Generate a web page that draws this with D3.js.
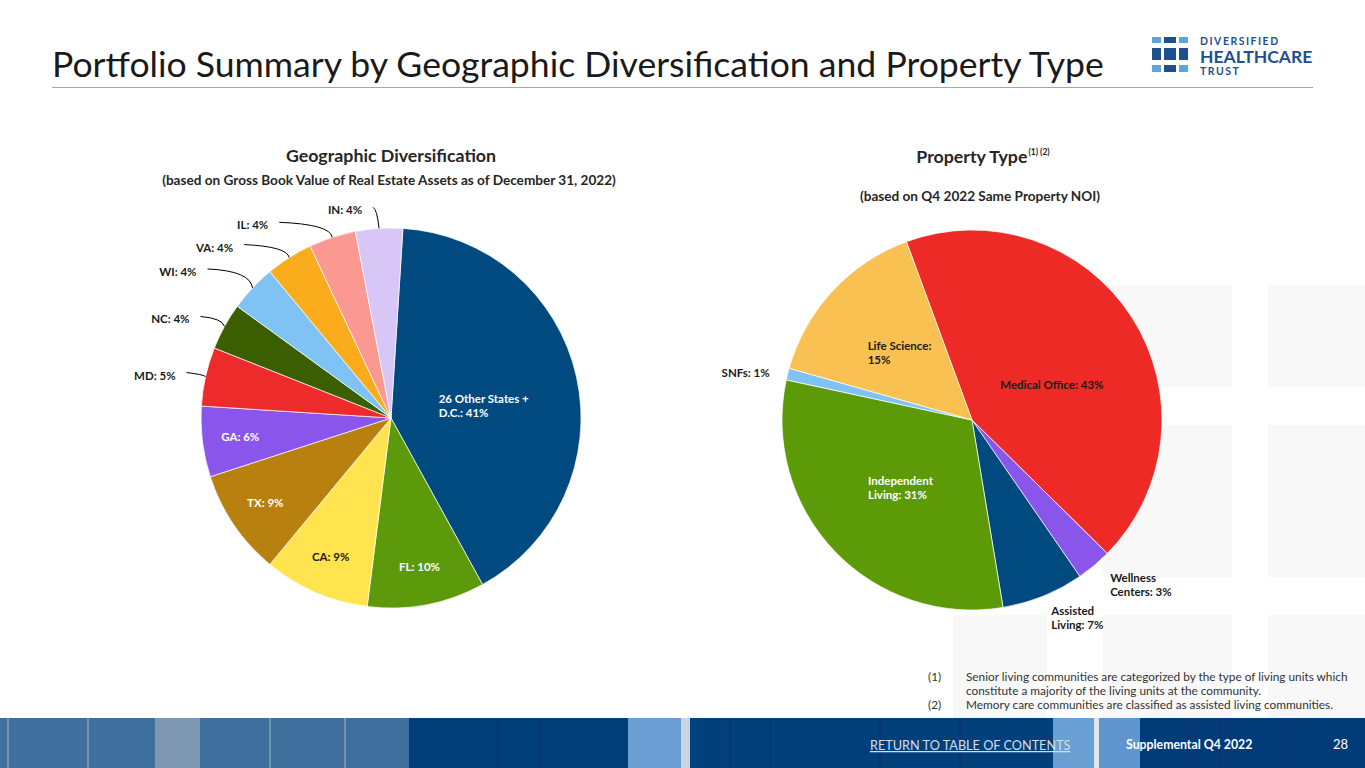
<!DOCTYPE html>
<html lang="en">
<head>
<meta charset="UTF-8">
<title>Portfolio Summary by Geographic Diversification and Property Type</title>
<script src="https://d3js.org/d3.v7.min.js"></script>
<style>
  body { margin: 0; background: #fff; }
  svg { display: block; font-family: Lato, "Open Sans", sans-serif; }
  .lbl { font-size: 11.5px; font-weight: 700; }
  .note { font-size: 11.8px; fill: #333; }
</style>
</head>
<body>
<svg id="chart" width="1365" height="768"></svg>
<script>
// ---- data ----
const geoLabels = ["26 Other States + D.C.", "FL", "CA", "TX", "GA", "MD", "NC", "WI", "VA", "IL", "IN"];
const geoValues = [41, 10, 9, 9, 6, 5, 4, 4, 4, 4, 4];

const typeLabels = ["Medical Office", "Wellness Centers", "Assisted Living", "Independent Living", "SNFs", "Life Science"];
const typeValues = [43, 3, 7, 31, 1, 15];

const footnotes = [
  ["(1)", "Senior living communities are categorized by the type of living units which"],
  ["", "constitute a majority of the living units at the community."],
  ["(2)", "Memory care communities are classified as assisted living communities."]
];

const svg = d3.select("#chart");
const deg = Math.PI / 180;

// faint background squares (brand pattern)
const bgSquares = [
  [1103, 285, 129, 102], [1268, 285, 97, 102],
  [1103, 425, 129, 152], [1268, 425, 97, 152],
  [953, 615, 94, 103], [1103, 615, 129, 103], [1268, 615, 97, 103]
];
svg.selectAll("rect.bg").data(bgSquares).enter().append("rect")
  .attr("class", "bg")
  .attr("x", d => d[0]).attr("y", d => d[1])
  .attr("width", d => d[2]).attr("height", d => d[3])
  .attr("fill", "#f8f8f8");

// title
svg.append("text")
  .attr("x", 52).attr("y", 77)
  .attr("font-size", 35.6).attr("fill", "#1a1a1a")
  .text("Portfolio Summary by Geographic Diversification and Property Type");

svg.append("line")
  .attr("x1", 52).attr("x2", 1313).attr("y1", 87.5).attr("y2", 87.5)
  .attr("stroke", "#a6a6a6").attr("stroke-width", 1);

// logo
const logo = svg.append("g");
const lcols = [[1152, 9], [1164, 12], [1179, 9]];
const lrows = [[37, 6, ["#5ba6de", "#1f4f8f", "#5ba6de"]],
               [48, 12, ["#1f4f8f", "#1f4f8f", "#1f4f8f"]],
               [65, 7, ["#5ba6de", "#1f4f8f", "#5ba6de"]]];
lrows.forEach(r => lcols.forEach((c, i) => {
  logo.append("rect").attr("x", c[0]).attr("y", r[0])
    .attr("width", c[1]).attr("height", r[1]).attr("fill", r[2][i]);
}));
logo.append("text").attr("x", 1200).attr("y", 44.5).attr("font-size", 10.5)
  .attr("font-weight", 700).attr("letter-spacing", 1.5).attr("fill", "#1f4f8f").text("DIVERSIFIED");
logo.append("text").attr("x", 1200).attr("y", 62.5).attr("font-size", 17.5)
  .attr("font-weight", 700).attr("letter-spacing", 0).attr("fill", "#1f4f8f").text("HEALTHCARE");
logo.append("text").attr("x", 1200).attr("y", 74.5).attr("font-size", 10.5)
  .attr("font-weight", 700).attr("letter-spacing", 1.5).attr("fill", "#1f4f8f").text("TRUST");

// section headings
function heading(x, y, txt, size) {
  return svg.append("text").attr("x", x).attr("y", y).attr("text-anchor", "middle")
    .attr("font-size", size).attr("font-weight", 700).attr("fill", "#262626").text(txt);
}
heading(391, 162, "Geographic Diversification", 17.8);
heading(389, 185, "(based on Gross Book Value of Real Estate Assets as of December 31, 2022)", 13.6);
const pt = heading(983, 163, "Property Type", 17.8);
pt.append("tspan").attr("font-size", 8.5).attr("dy", -8).attr("dx", 1).text("(1) (2)");
heading(980, 201, "(based on Q4 2022 Same Property NOI)", 13.6);

// ---- pies ----
const R = 190;

function labelText(name, v) { return `${name}: ${v}%`; }
function splitLines(str, firstWords) {
  if (!firstWords) return [str];
  const w = str.split(" ");
  return [w.slice(0, firstWords).join(" "), w.slice(firstWords).join(" ")];
}

function drawPie(cx, cy, labels, values, colors, startDeg, place) {
  const g = svg.append("g").attr("transform", `translate(${cx},${cy})`);
  const color = d3.scaleOrdinal().domain(labels).range(colors);
  const pie = d3.pie().sort(null).value(d => d.v)
    .startAngle(startDeg * deg).endAngle(startDeg * deg + 2 * Math.PI);
  const arcs = pie(labels.map((n, i) => ({ n, v: values[i] })));
  const arc = d3.arc().innerRadius(0).outerRadius(R);

  g.selectAll("path.slice").data(arcs).enter().append("path")
    .attr("class", "slice")
    .attr("d", arc)
    .attr("fill", d => color(d.data.n))
    .attr("stroke", "#fff").attr("stroke-width", 0.7);

  arcs.forEach(a => {
    const p = place[a.data.n];
    const mid = (a.startAngle + a.endAngle) / 2;
    const lines = splitLines(labelText(a.data.n, a.data.v), p.wrap);
    const lh = 14;
    let x, y, anchor = "start";
    if (p.in !== undefined) {
      const rr = R * p.in;
      x = Math.sin(mid) * rr + (p.dx || 0);
      y = -Math.cos(mid) * rr + (p.dy || 0);
    } else {
      const ex = Math.sin(mid) * R, ey = -Math.cos(mid) * R;
      x = ex + p.off[0]; y = ey + p.off[1];
      if (p.leader) {
        g.append("path")
          .attr("d", `M${x},${y} Q${ex - 2},${y + 2} ${ex},${ey}`)
          .attr("fill", "none").attr("stroke", "#000").attr("stroke-width", 1);
        x -= 11; y += 3;
      }
      anchor = p.anchor || "start";
    }
    const t = g.append("text").attr("class", "lbl").attr("fill", p.fill || "#1a1a1a");
    lines.forEach(l => t.append("tspan").text(l));
    const tsp = t.selectAll("tspan");
    const block = (lines.length - 1) * lh;
    // inside labels: left-aligned block centred on the anchor point
    if (p.in !== undefined) {
      const wmax = d3.max(tsp.nodes(), n => n.getComputedTextLength());
      tsp.attr("x", x - wmax / 2).attr("y", (d, i) => y - block / 2 + i * lh + 4);
    } else {
      t.attr("text-anchor", anchor);
      const top = p.top ? y : y - block / 2;
      tsp.attr("x", x).attr("y", (d, i) => top + i * lh + 4);
    }
  });
}

const geoColors = ["#004a80", "#5c9a0b", "#ffe44f", "#b8800f", "#8a55ea", "#ee2b2b",
                   "#3a5e00", "#7fc3f5", "#faac1d", "#fb9892", "#d8c7f6"];
const geoPlace = {
  "26 Other States + D.C.": { in: 0.5, dy: 9, wrap: 4, fill: "#fff" },
  "FL": { in: 0.8, fill: "#fff" },
  "CA": { in: 0.8 },
  "TX": { in: 0.8, fill: "#fff" },
  "GA": { in: 0.8, fill: "#fff" },
  "MD": { off: [-19, -4], leader: true, anchor: "end" },
  "NC": { off: [-24, -10], leader: true, anchor: "end" },
  "WI": { off: [-45, -19], leader: true, anchor: "end" },
  "VA": { off: [-45, -13], leader: true, anchor: "end" },
  "IL": { off: [-53, -15], leader: true, anchor: "end" },
  "IN": { off: [-6, -21], leader: true, anchor: "end" }
};
drawPie(391, 418, geoLabels, geoValues, geoColors, 3.6, geoPlace);

const typeColors = ["#ee2a26", "#8a55ea", "#004a80", "#5c9a07", "#7fc3f5", "#f9c052"];
const typePlace = {
  "Medical Office": { in: 0.5, dy: 16 },
  "Wellness Centers": { off: [16, 12], wrap: 1, top: true },
  "Assisted Living": { off: [8, 15], wrap: 1, top: true },
  "Independent Living": { in: 0.52, wrap: 1, fill: "#fff" },
  "SNFs": { off: [-18, -1], anchor: "end" },
  "Life Science": { in: 0.52, wrap: 2 }
};
drawPie(972, 420, typeLabels, typeValues, typeColors, -20.2, typePlace);

// ---- footnotes ----
const fn = svg.append("g");
footnotes.forEach((f, i) => {
  const y = 681 + i * 14;
  fn.append("text").attr("class", "note").attr("x", 928).attr("y", y).text(f[0]);
  fn.append("text").attr("class", "note").attr("x", 966).attr("y", y).text(f[1]);
});

// ---- footer band (building photo, approximated) ----
const band = [
  [0, 409, "#3f6f9c"], [155, 200, "#7f98b2"], [409, 628, "#003f7a"],
  [628, 681, "#6b9fd3"], [681, 690, "#c8d4e0"], [690, 1053, "#02407c"],
  [1053, 1094, "#6a9fd4"], [1094, 1099, "#dfe6ee"], [1099, 1140, "#5f96cf"],
  [1140, 1365, "#013c78"]
];
const foot = svg.append("g");
foot.selectAll("rect").data(band).enter().append("rect")
  .attr("x", d => d[0]).attr("y", 718).attr("width", d => d[1] - d[0]).attr("height", 50)
  .attr("fill", d => d[2]);
const mullions = [8, 88, 270, 345, 498, 540, 730, 770, 880, 960, 1190, 1220, 1290];
foot.selectAll("line").data(mullions).enter().append("line")
  .attr("x1", d => d).attr("x2", d => d).attr("y1", 718).attr("y2", 768)
  .attr("stroke", d => d < 409 ? "#8aa2bb" : "#0a3566").attr("stroke-width", 2).attr("opacity", 0.7);

foot.append("text").attr("x", 870).attr("y", 750).attr("font-size", 12.7)
  .attr("fill", "#d6dde8").attr("text-decoration", "underline")
  .text("RETURN TO TABLE OF CONTENTS");
foot.append("text").attr("x", 1126).attr("y", 749).attr("font-size", 12.3)
  .attr("font-weight", 700).attr("fill", "#fff").text("Supplemental Q4 2022");
foot.append("text").attr("x", 1333).attr("y", 749).attr("font-size", 13)
  .attr("fill", "#fff").text("28");
</script>
</body>
</html>
